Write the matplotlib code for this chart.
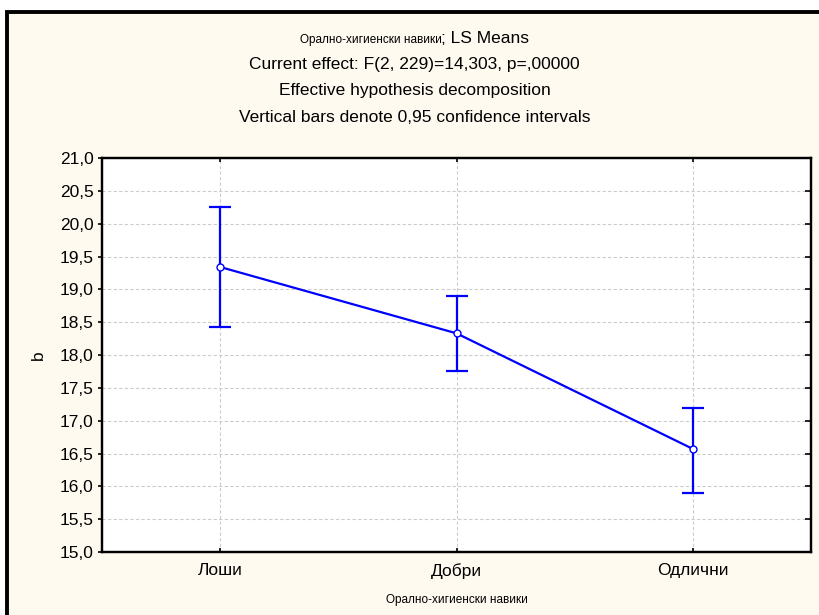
import matplotlib.pyplot as plt
from matplotlib.patches import Rectangle

# данни (LS Means и 95% доверителни интервали)
categories = ['Лоши', 'Добри', 'Одлични']
means = [19.34, 18.33, 16.57]
ci_low = [18.42, 17.76, 15.90]
ci_high = [20.26, 18.90, 17.20]
yticks = [15.0, 15.5, 16.0, 16.5, 17.0, 17.5, 18.0, 18.5, 19.0, 19.5, 20.0, 20.5, 21.0]

title_small = 'Орално-хигиенски навики'
title_rest = '; LS Means'
title_lines = ['Current effect: F(2, 229)=14,303, p=,00000',
               'Effective hypothesis decomposition',
               'Vertical bars denote 0,95 confidence intervals']
xlabel = 'Орално-хигиенски навики'
ylabel = 'b'

plt.rcParams['font.family'] = ['Liberation Sans', 'DejaVu Sans']
narrow = ['Liberation Sans Narrow', 'Liberation Sans', 'DejaVu Sans']

W, H = 819, 615
fig = plt.figure(figsize=(W / 100, H / 100), dpi=100, facecolor='white')

# рамка с кремав фон
fig.patches.append(Rectangle((7 / W, -0.05), 1.1, (H - 12) / H + 0.05,
                             transform=fig.transFigure, facecolor='#FFFAF0',
                             edgecolor='black', linewidth=2.8, zorder=-1))

ax = fig.add_axes([102 / W, 63 / H, 709 / W, 394 / H])
ax.set_facecolor('white')

x = [1, 2, 3]
yerr = [[m - lo for m, lo in zip(means, ci_low)],
        [hi - m for m, hi in zip(means, ci_high)]]
ax.errorbar(x, means, yerr=yerr, fmt='none', ecolor='#0000FF',
            elinewidth=1.6, capsize=8, capthick=1.6, zorder=3)
ax.plot(x, means, color='#0000FF', lw=1.6, marker='o', mfc='white',
        mec='#0000FF', ms=5, mew=1.0, zorder=4)

ax.set_xlim(0.5, 3.5)
ax.set_ylim(15, 21)
ax.set_yticks(yticks)
ax.set_yticklabels([f'{v:.1f}'.replace('.', ',') for v in yticks], fontsize=12.5)
ax.set_xticks(x)
ax.set_xticklabels(categories, fontsize=12.5)

ax.grid(True, color='#CCCCCC', linestyle=(0, (3, 2)), linewidth=0.8)
ax.set_axisbelow(True)
for s in ax.spines.values():
    s.set_linewidth(1.6)

ax.tick_params(axis='y', direction='out', length=3, width=1.2, pad=3)
ax.tick_params(axis='x', direction='in', length=3, width=1.2, pad=8, top=True)

ax2 = ax.twinx()
ax2.set_ylim(15, 21)
ax2.set_yticks(yticks)
ax2.tick_params(axis='y', direction='in', length=4, width=1.2, labelright=False)
for s in ax2.spines.values():
    s.set_linewidth(1.6)

# заглавие: първи ред с две големини на шрифта
r = fig.canvas.get_renderer()
y0 = 1 - 43 / H
t1 = fig.text(0, y0, title_small, fontsize=8.5, family=narrow, va='baseline')
t2 = fig.text(0, y0, title_rest, fontsize=12.5, va='baseline')
w1 = t1.get_window_extent(r).width
w2 = t2.get_window_extent(r).width
x0 = (W * 0.5 + 5) - (w1 + w2) / 2
t1.set_x(x0 / W)
t2.set_x((x0 + w1) / W)

for i, line in enumerate(title_lines):
    fig.text((W * 0.5 + 5) / W, 1 - (64 + 27 * i) / H, line, fontsize=12.5,
             ha='center', va='center')

fig.text(0.5 * (102 + 811) / W, 1 - 600 / H, xlabel, fontsize=8.5,
         family=narrow, ha='center', va='center')
fig.text(38 / W, 1 - 355 / H, ylabel, fontsize=12.5, rotation=90,
         ha='center', va='center')

fig.savefig('out.png', dpi=100, facecolor='white')
